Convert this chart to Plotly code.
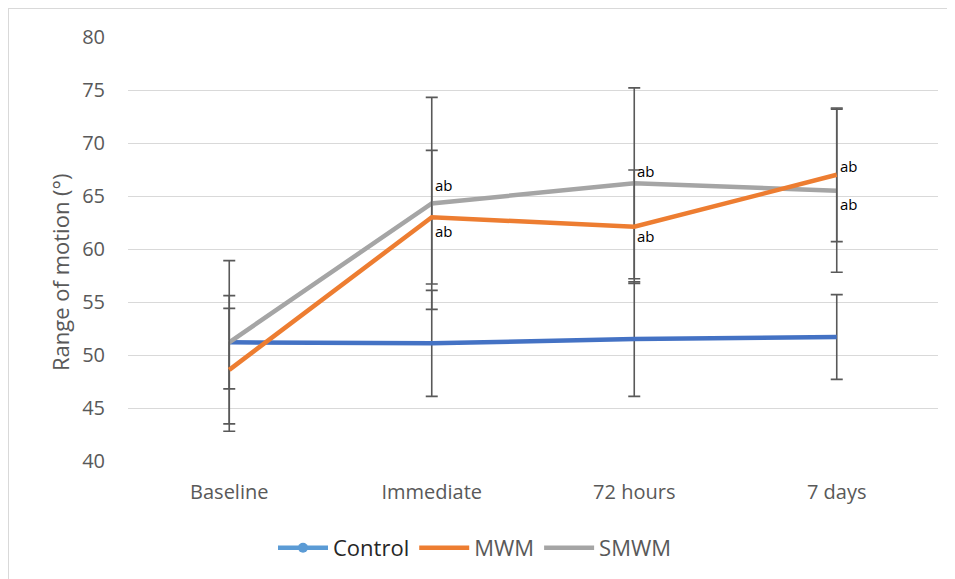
import plotly.graph_objects as go

categories = ["Baseline", "Immediate", "72 hours", "7 days"]
control = [51.2, 51.1, 51.5, 51.7]
control_err = [4.4, 5.0, 5.4, 4.0]
mwm = [48.6, 63.0, 62.1, 67.0]
mwm_err = [5.8, 6.3, 5.35, 6.3]
smwm = [51.2, 64.3, 66.2, 65.5]
smwm_err = [7.7, 10.0, 9.0, 7.7]

# significance labels: (category, y, text)
sig_labels = [
    ("Immediate", 66.0, "ab"), ("Immediate", 61.7, "ab"),
    ("72 hours", 67.4, "ab"), ("72 hours", 61.2, "ab"),
    ("7 days", 67.8, "ab"), ("7 days", 64.2, "ab"),
]

ERR = "#595959"
# page body has an 8px margin, so the figure is 947x571 placed at (8,8)
W, H = 947, 571
L, R, T, B = 120, 17, 29, 118

fig = go.Figure()

def err(a):
    return dict(type="data", array=a, visible=True, color=ERR, thickness=1.6, width=6)

fig.add_trace(go.Scatter(x=categories, y=control, mode="lines", name="Control",
                         line=dict(color="#4472C4", width=4.5), error_y=err(control_err),
                         showlegend=False))
fig.add_trace(go.Scatter(x=categories, y=smwm, mode="lines", name="SMWM",
                         line=dict(color="#A5A5A5", width=4.5), error_y=err(smwm_err),
                         showlegend=False))
fig.add_trace(go.Scatter(x=categories, y=mwm, mode="lines", name="MWM",
                         line=dict(color="#ED7D31", width=4.5), error_y=err(mwm_err),
                         showlegend=False))
# legend entries
fig.add_trace(go.Scatter(x=[None], y=[None], mode="lines+markers",
                         name="<span style='color:#262626'>Control</span>",
                         line=dict(color="#5B9BD5", width=4.5), marker=dict(size=10, color="#5B9BD5"),
                         legendrank=1))
fig.add_trace(go.Scatter(x=[None], y=[None], mode="lines", name="MWM",
                         line=dict(color="#ED7D31", width=4.5), legendrank=2))
fig.add_trace(go.Scatter(x=[None], y=[None], mode="lines", name="SMWM",
                         line=dict(color="#A5A5A5", width=4.5), legendrank=3))

for cat, yv, txt in sig_labels:
    fig.add_annotation(x=cat, y=yv, text=txt, showarrow=False, xanchor="left",
                       xshift=1, font=dict(size=15, color="#000000", family="Open Sans"))

plot_w = W - L - R
plot_h = H - T - B
def px_x(p):
    return (p - L) / plot_w
def px_y(p):
    return (H - B - p) / plot_h

# y axis title as a rotated annotation, placed where the reference has it
fig.add_annotation(xref="paper", yref="paper", x=px_x(60 - 8), y=px_y(272 - 8),
                   text="Range of motion (°)", textangle=-90, showarrow=False,
                   xanchor="center", yanchor="middle",
                   font=dict(size=22, color="#595959", family="Open Sans"))

fig.add_shape(type="rect", xref="paper", yref="paper",
              x0=px_x(0), x1=px_x(W + 10), y0=px_y(H + 10), y1=px_y(0),
              line=dict(color="#D9D9D9", width=2), fillcolor="rgba(0,0,0,0)", layer="below")

fig.update_layout(
    width=W, height=H,
    margin=dict(l=L, r=R, t=T, b=B),
    paper_bgcolor="white", plot_bgcolor="white",
    font=dict(family="Open Sans", color="#595959", size=16),
    xaxis=dict(type="category", categoryorder="array", categoryarray=categories,
               range=[-0.5, 3.5], showgrid=False, showline=False, ticks="",
               ticklabelstandoff=17, tickfont=dict(size=20, color="#595959")),
    yaxis=dict(range=[40, 80], dtick=5, showgrid=True, gridcolor="#D9D9D9", gridwidth=1,
               zeroline=False, showline=False, ticks="", ticklabelstandoff=22,
               tickfont=dict(size=20, color="#595959")),
    legend=dict(orientation="h", xref="paper", yref="container", x=px_x(475 - 8), y=1 - (548 - 8) / H,
                xanchor="center", yanchor="middle", font=dict(size=22, color="#595959"),
                traceorder="normal", itemwidth=50),
    showlegend=True,
)

fig.write_html("out.html")
